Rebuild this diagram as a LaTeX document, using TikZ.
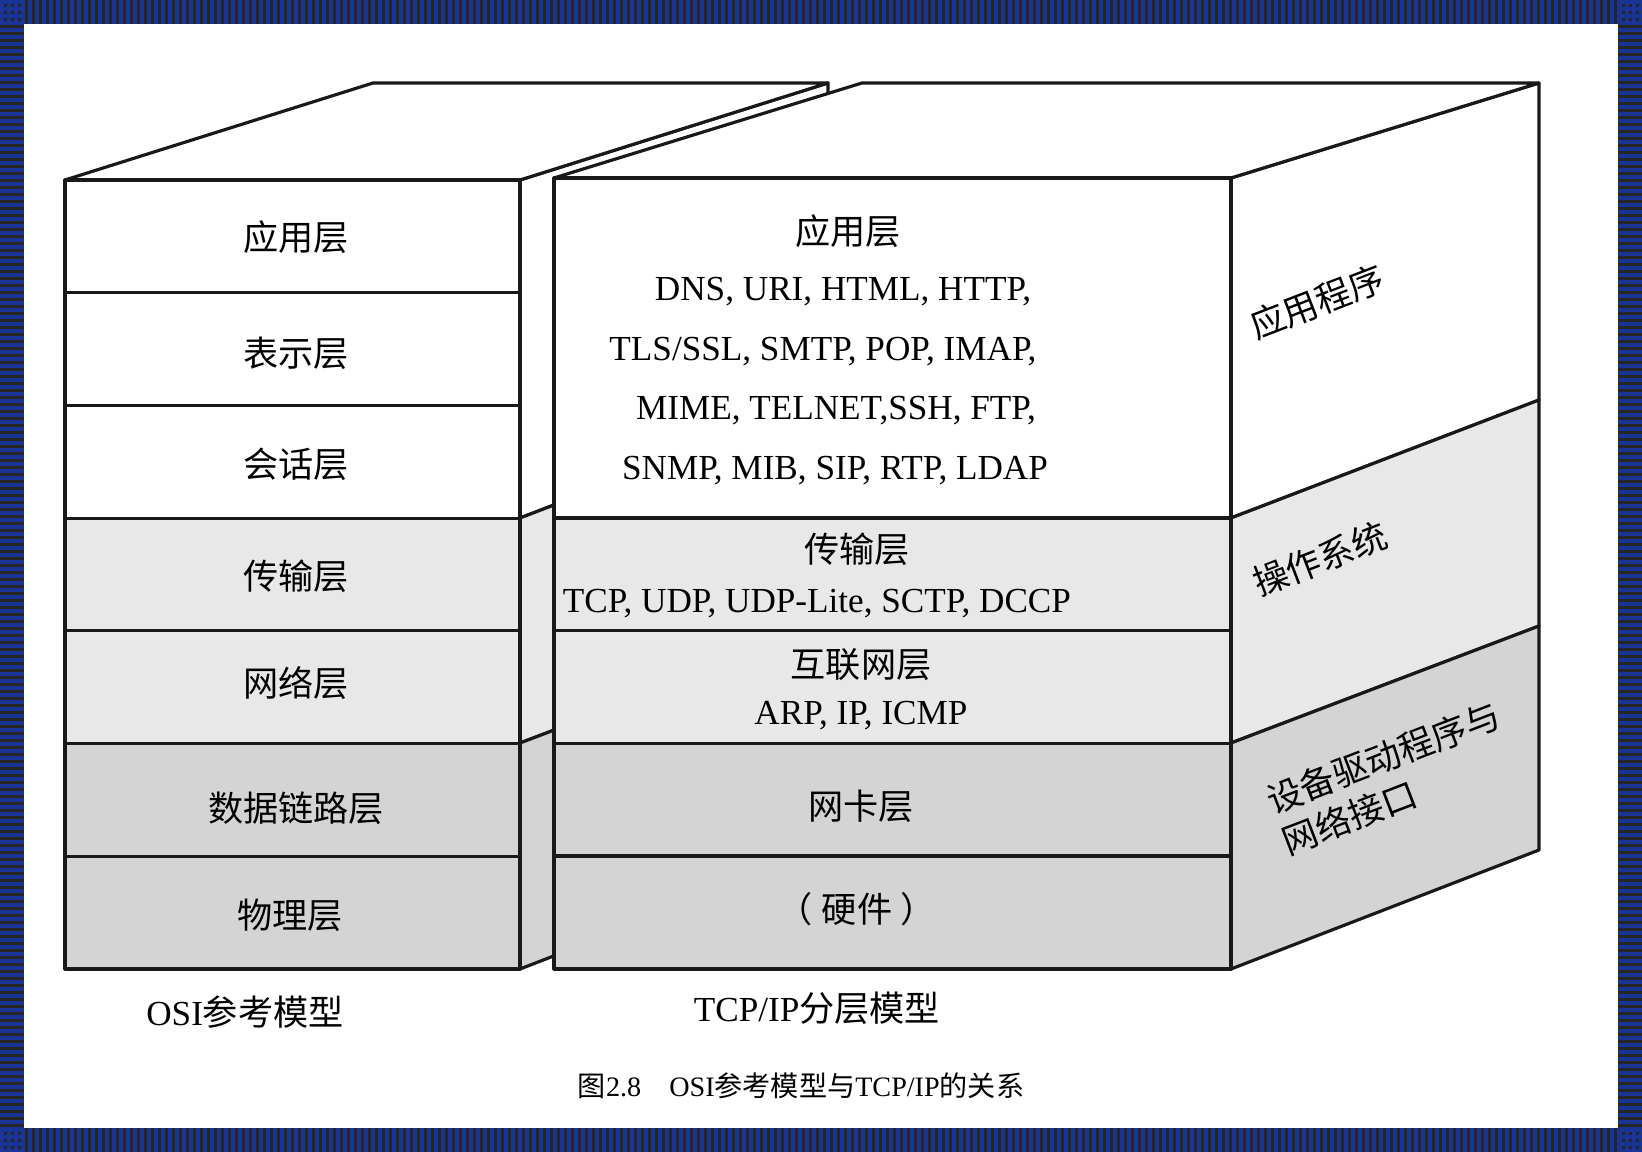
\documentclass[tikz,border=0pt]{standalone}
\usepackage{fontspec}
\setmainfont{Liberation Serif}
\newfontfamily\cjk{Noto Sans CJK SC}
\newcommand{\zh}[1]{{\cjk #1}}
\usetikzlibrary{positioning}
\definecolor{framebl}{RGB}{24,52,148}
\definecolor{lightrow}{gray}{0.91}
\definecolor{darkrow}{gray}{0.83}

\begin{document}
\begin{tikzpicture}[x=0.01cm,y=-0.01cm,
  edge/.style={draw=black!90,line width=0.9pt,line join=round},
  lbl/.style={font=\fontsize{10}{12}\selectfont},
  proto/.style={font=\fontsize{10}{12}\selectfont},
  side/.style={font=\fontsize{10}{12.5}\selectfont,rotate=21,align=left}]
  \useasboundingbox (0,0) rectangle (1642,1152);
  \fill[framebl] (0,0) rectangle (1642,1152);
  \fill[white] (24,24) rectangle (1618,1128);
  \foreach \i in {0,...,227} {
    \fill[black!85] ({25+7*\i},0) rectangle ++(3,24);
    \fill[black!85] ({25+7*\i},1128) rectangle ++(3,24);
  }
  \foreach \i in {0,...,157} {
    \fill[black!85] (0,{25+7*\i}) rectangle ++(24,3);
    \fill[black!85] (1618,{25+7*\i}) rectangle ++(24,3);
  }
  \foreach \cx in {0,1618} \foreach \cy in {0,1128} \foreach \a in {4,11,18} \foreach \b in {4,11,18}
    \fill[black!85] ({\cx+\a},{\cy+\b}) rectangle ++(3,3);

  \filldraw[edge,fill=white] (520,180) -- (828,83) -- (828,400) -- (520,518) -- cycle;
  \filldraw[edge,fill=lightrow] (520,518) -- (828,400) -- (828,626) -- (520,743) -- cycle;
  \filldraw[edge,fill=darkrow] (520,743) -- (828,626) -- (828,850) -- (520,969) -- cycle;
  \filldraw[edge,fill=white] (65,180) -- (373,83) -- (828,83) -- (520,180) -- cycle;
  \foreach \fc [count=\i from 0] in {white,white,white,lightrow,lightrow,darkrow,darkrow}
    \filldraw[edge,fill=\fc] (65,{180+112.71*\i}) rectangle (520,{180+112.71*(\i+1)});

  \node[lbl] (osiapp) at (296,237) {\zh{应用层}};
  \node[lbl] (osipre) at (296,353) {\zh{表示层}};
  \node[lbl] (osises) at (296,464) {\zh{会话层}};
  \node[lbl] (ositra) at (296,576) {\zh{传输层}};
  \node[lbl] (osinet) at (296,683) {\zh{网络层}};
  \node[lbl] (osidat) at (296,808) {\zh{数据链路层}};
  \node[lbl] (osiphy) at (290,915) {\zh{物理层}};

  \filldraw[edge,fill=white] (1231,178) -- (1539,83) -- (1539,400) -- (1231,518) -- cycle;
  \filldraw[edge,fill=lightrow] (1231,518) -- (1539,400) -- (1539,626) -- (1231,743) -- cycle;
  \filldraw[edge,fill=darkrow] (1231,743) -- (1539,626) -- (1539,850) -- (1231,969) -- cycle;
  \filldraw[edge,fill=white] (554,178) -- (862,83) -- (1539,83) -- (1231,178) -- cycle;
  \filldraw[edge,fill=white] (554,178) rectangle (1231,518);
  \filldraw[edge,fill=lightrow] (554,518) rectangle (1231,630.7);
  \filldraw[edge,fill=lightrow] (554,630.7) rectangle (1231,743.4);
  \filldraw[edge,fill=darkrow] (554,743.4) rectangle (1231,856);
  \filldraw[edge,fill=darkrow] (554,856) rectangle (1231,969);

  \node[lbl] (tcpapp) at (848,231) {\zh{应用层}};
  \node[proto] (proto1) at (843,292) {DNS, URI, HTML, HTTP,};
  \node[proto] (proto2) at (823,352) {TLS/SSL, SMTP, POP, IMAP,};
  \node[proto] (proto3) at (836,411) {MIME, TELNET,SSH, FTP,};
  \node[proto] (proto4) at (835,471) {SNMP, MIB, SIP, RTP, LDAP};
  \node[lbl] (tcptra) at (857,549) {\zh{传输层}};
  \node[proto] (proto5) at (817,604) {TCP, UDP, UDP-Lite, SCTP, DCCP};
  \node[lbl] (tcpnet) at (861,665) {\zh{互联网层}};
  \node[proto] (proto6) at (861,716) {ARP, IP, ICMP};
  \node[lbl] (tcpnic) at (861,806) {\zh{网卡层}};
  \node[lbl] (tcphw) at (857,909) {\zh{（\hspace{0.25em}硬件\hspace{0.25em}）}};

  \node[side] (apps) at (1317,302) {\zh{应用程序}};
  \node[side] (os) at (1320,559) {\zh{操作系统}};
  \node[side] (drv) at (1391,778) {\zh{设备驱动程序与}\\\zh{网络接口}};

  \node[lbl] (osiname) at (245,1012) {OSI\zh{参考模型}};
  \node[lbl] (tcpname) at (817,1008) {TCP/IP\zh{分层模型}};
  \node[font=\fontsize{8}{10}\selectfont] (caption) at (801,1086) {\zh{图}2.8\hspace{1em}OSI\zh{参考模型与}TCP/IP\zh{的关系}};
\end{tikzpicture}
\end{document}
